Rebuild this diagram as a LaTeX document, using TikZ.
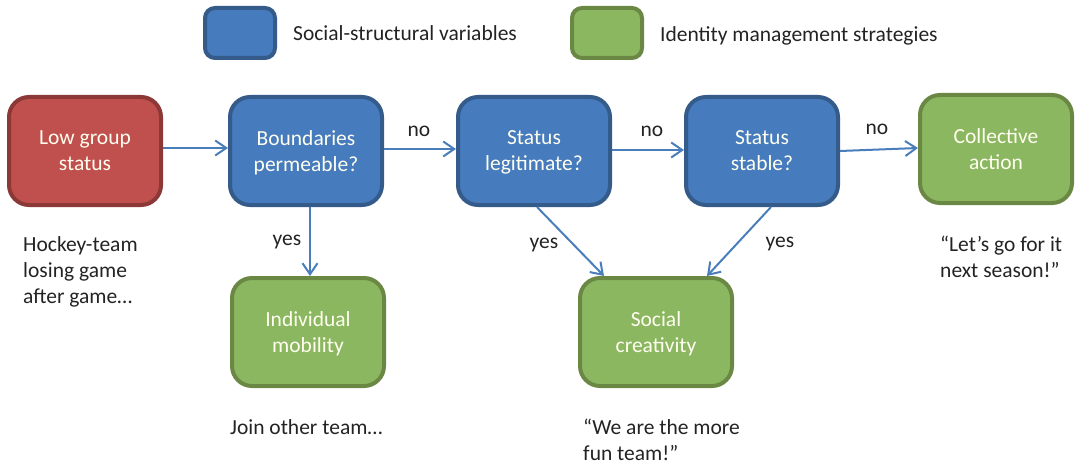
\documentclass[tikz,border=0pt]{standalone}
\usepackage{fontspec}
\setmainfont{Carlito}
\usetikzlibrary{positioning,arrows.meta}
\definecolor{redFill}{RGB}{192,80,77}
\definecolor{redLine}{RGB}{140,56,54}
\definecolor{blueFill}{RGB}{70,123,189}
\definecolor{blueLine}{RGB}{52,91,138}
\definecolor{greenFill}{RGB}{139,183,97}
\definecolor{greenLine}{RGB}{106,136,67}
\definecolor{arrowColor}{RGB}{74,126,187}
\definecolor{textColor}{RGB}{35,35,35}
\tikzstyle{boxStyle} = [rounded corners = 20pt, line width = 4pt, minimum width = 152pt, minimum height = 108pt, align = center, text = white!94!yellow, font = \fontsize{21.5}{26}\selectfont, text depth = -5pt]
\tikzstyle{redBox} = [boxStyle, draw = redLine, fill = redFill]
\tikzstyle{blueBox} = [boxStyle, draw = blueLine, fill = blueFill]
\tikzstyle{greenBox} = [boxStyle, draw = greenLine, fill = greenFill]
\tikzstyle{legendBox} = [rounded corners = 10pt, line width = 4pt, minimum width = 70pt, minimum height = 50pt]
\tikzstyle{flow} = [color = arrowColor, line width = 2pt, -{Straight Barb[length=11pt, width=15pt]}]
\tikzstyle{plainText} = [text = textColor, font = \fontsize{21.5}{26}\selectfont, align = left, inner sep = 0pt]

\begin{document}
\begin{tikzpicture}[x = 1pt, y = -1pt]
  \useasboundingbox (0,0) rectangle (1078,465);
  % legend
  \node [legendBox, draw = blueLine, fill = blueFill] (keyBlue) at (240,33) {};
  \node [plainText, right = 16pt of keyBlue] (keyBlueText) {Social-structural variables};
  \node [legendBox, draw = greenLine, fill = greenFill] (keyGreen) at (607,33) {};
  \node [plainText, right = 16pt of keyGreen, yshift = -3pt] (keyGreenText) {Identity management strategies};
  % boxes
  \node [redBox] (lowStatus) at (85,151) {Low group\\status};
  \node [blueBox] (permeable) at (306,151) {Boundaries\\permeable?};
  \node [blueBox] (legitimate) at (534,151) {Status\\legitimate?};
  \node [blueBox] (stable) at (762,151) {Status\\stable?};
  \node [greenBox] (collective) at (996,149) {Collective\\action};
  \node [greenBox] (mobility) at (308,332) {Individual\\mobility};
  \node [greenBox] (creativity) at (656,332) {Social\\creativity};
  % arrows
  \draw [flow] ([yshift=3pt]lowStatus.east) -- ([yshift=3pt]permeable.west);
  \draw [flow] ([yshift=2pt]permeable.east) -- ([yshift=2pt]legitimate.west);
  \draw [flow] ([yshift=1pt]legitimate.east) -- ([yshift=1pt]stable.west);
  \draw [flow] (stable.east) -- ([yshift=1pt]collective.west);
  \draw [flow] ([xshift=4pt]permeable.south) -- ([xshift=2pt]mobility.north);
  \draw [flow] ([xshift=3pt]legitimate.south) -- ([xshift=-52pt]creativity.north);
  \draw [flow] ([xshift=9pt]stable.south) -- ([xshift=51pt]creativity.north);
  % labels
  \node [plainText] (noOne) at (419,131) {no};
  \node [plainText] (noTwo) at (652,131) {no};
  \node [plainText] (noThree) at (877,129) {no};
  \node [plainText] (yesOne) at (287,242) {yes};
  \node [plainText] (yesTwo) at (544,245) {yes};
  \node [plainText] (yesThree) at (780,244) {yes};
  % examples
  \node [plainText, anchor = north west] (hockey) at (23,236) {Hockey-team\\losing game\\after game…};
  \node [plainText, anchor = north west] (joinTeam) at (230,419) {Join other team…};
  \node [plainText, anchor = north west] (funTeam) at (583,419) {“We are the more\\fun team!”};
  \node [plainText, anchor = north west] (nextSeason) at (940,236) {“Let’s go for it\\next season!”};
\end{tikzpicture}
\end{document}
